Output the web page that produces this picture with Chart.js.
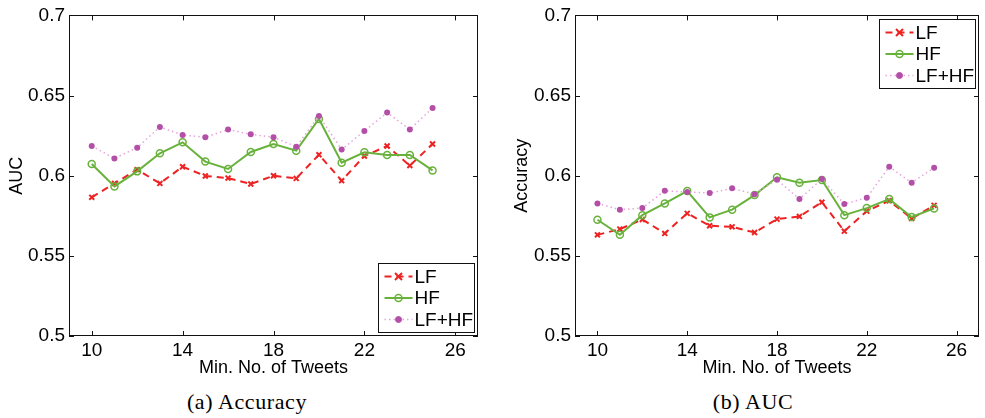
<!DOCTYPE html>
<html>
<head>
<meta charset="utf-8">
<script src="https://cdn.jsdelivr.net/npm/chart.js@4.4.1/dist/chart.umd.min.js"></script>
<style>
  html, body { margin:0; background:#fff; width:985px; height:418px; overflow:hidden; }
  .fig { position:absolute; top:0; width:490px; height:380px; }
  .cap { position:absolute; top:390px; line-height:24px; font:22px/24px "Liberation Serif","DejaVu Serif",serif; letter-spacing:0.6px; color:#000; transform:translateX(-50%); white-space:nowrap; }
</style>
</head>
<body>
<div class="fig" style="left:0"><canvas id="c1" width="490" height="380"></canvas></div>
<div class="fig" style="left:495px"><canvas id="c2" width="490" height="380"></canvas></div>
<div class="cap" style="left:247px">(a) Accuracy</div>
<div class="cap" style="left:753px">(b) AUC</div>
<script>
// data
const minTweets = [10, 11, 12, 13, 14, 15, 16, 17, 18, 19, 20, 21, 22, 23, 24, 25];
const xTicks = [10, 14, 18, 22, 26];
const yTicks = [0.5, 0.55, 0.6, 0.65, 0.7];
const seriesNames = ['LF', 'HF', 'LF+HF'];

// left panel (AUC axis)
const aucLF   = [0.5865, 0.5952, 0.6038, 0.5952, 0.6056, 0.5998, 0.5985, 0.5948, 0.6000, 0.5983, 0.6131, 0.5969, 0.6123, 0.6185, 0.6063, 0.6198];
const aucHF   = [0.6073, 0.5933, 0.6027, 0.6140, 0.6208, 0.6088, 0.6042, 0.6148, 0.6198, 0.6156, 0.6354, 0.6081, 0.6146, 0.6129, 0.6129, 0.6033];
const aucBoth = [0.6185, 0.6108, 0.6175, 0.6304, 0.6254, 0.6240, 0.6288, 0.6258, 0.6240, 0.6181, 0.6373, 0.6163, 0.6279, 0.6394, 0.6288, 0.6423];

// right panel (Accuracy axis)
const accLF   = [0.5631, 0.5667, 0.5727, 0.5640, 0.5765, 0.5688, 0.5681, 0.5646, 0.5729, 0.5746, 0.5835, 0.5654, 0.5779, 0.5844, 0.5733, 0.5815];
const accHF   = [0.5725, 0.5631, 0.5754, 0.5827, 0.5904, 0.5740, 0.5788, 0.5879, 0.5990, 0.5956, 0.5973, 0.5754, 0.5798, 0.5854, 0.5742, 0.5796];
const accBoth = [0.5827, 0.5788, 0.5798, 0.5906, 0.5898, 0.5892, 0.5921, 0.5885, 0.5975, 0.5854, 0.5979, 0.5823, 0.5863, 0.6056, 0.5956, 0.6050];

const FONT = '"Liberation Sans", Arial, Helvetica, sans-serif';
const RED = '#ee2222', GREEN = '#68b23c', PURPLE = '#b44fa8', PINK = '#e6a3dc';

function pts(vals){ return minTweets.map((x, i) => ({x, y: vals[i]})); }

function drawMarker(ctx, ds, x, y){
  ctx.save();
  ctx.setLineDash([]);
  ctx.lineWidth = ds.pointBorderWidth;
  ctx.strokeStyle = ds.pointBorderColor;
  ctx.fillStyle = ds.pointBackgroundColor;
  const r = ds.pointRadius;
  ctx.beginPath();
  if (ds.pointStyle === 'crossRot') {
    ctx.moveTo(x - r, y - r); ctx.lineTo(x + r, y + r);
    ctx.moveTo(x + r, y - r); ctx.lineTo(x - r, y + r);
    ctx.stroke();
  } else {
    ctx.arc(x, y, r, 0, Math.PI * 2);
    ctx.fill(); ctx.stroke();
  }
  ctx.restore();
}

// matlab-like box, inward ticks and legend inside the axes
const frame = {
  id: 'frame',
  afterDatasetsDraw(chart, args, opts){
    const {ctx, chartArea: a, scales: {x, y}} = chart;
    ctx.save();
    ctx.strokeStyle = '#111'; ctx.lineWidth = 1;
    ctx.beginPath();
    xTicks.forEach(v => {
      const px = Math.round(x.getPixelForValue(v)) + 0.5;
      ctx.moveTo(px, a.top); ctx.lineTo(px, a.top + 5);
      ctx.moveTo(px, a.bottom); ctx.lineTo(px, a.bottom - 5);
    });
    yTicks.forEach(v => {
      const py = Math.round(y.getPixelForValue(v)) + 0.5;
      ctx.moveTo(a.left, py); ctx.lineTo(a.left + 5, py);
      ctx.moveTo(a.right, py); ctx.lineTo(a.right - 5, py);
    });
    ctx.stroke();
    ctx.strokeRect(Math.round(a.left) + 0.5, Math.round(a.top) + 0.5, Math.round(a.width) - 1, Math.round(a.height) - 1);

    // legend
    const w = 96, h = 69;
    const bx = Math.round(a.right - 4 - w) + 0.5;
    const by = opts.corner === 'top' ? Math.round(a.top + 4) + 0.5 : Math.round(a.bottom - 4 - h) + 0.5;
    ctx.fillStyle = '#fff';
    ctx.fillRect(bx, by, w, h);
    ctx.strokeStyle = '#111';
    ctx.strokeRect(bx, by, w, h);
    chart.data.datasets.forEach((ds, i) => {
      const ry = by + 13 + i * 21.5;
      ctx.save();
      ctx.strokeStyle = ds.borderColor;
      ctx.lineWidth = ds.borderWidth;
      ctx.setLineDash(ds.borderDash || []);
      ctx.beginPath();
      ctx.moveTo(bx + 6, ry); ctx.lineTo(bx + 34, ry);
      ctx.stroke();
      ctx.restore();
      drawMarker(ctx, ds, bx + 20, ry);
      ctx.fillStyle = '#000';
      ctx.font = '19px ' + FONT;
      ctx.textBaseline = 'middle';
      ctx.fillText(ds.label, bx + 36, ry + 1);
    });
    ctx.restore();
  }
};

function makeChart(id, yTitle, lf, hf, both, o){
  return new Chart(document.getElementById(id), {
    type: 'line',
    data: { datasets: [
      { label: seriesNames[0], data: pts(lf), borderColor: RED, borderWidth: 2, borderDash: [7, 5],
        pointStyle: 'crossRot', pointRadius: 3.5, pointBorderWidth: 2, pointBorderColor: RED, pointBackgroundColor: RED, order: 3 },
      { label: seriesNames[1], data: pts(hf), borderColor: GREEN, borderWidth: 2,
        pointStyle: 'circle', pointRadius: 3.5, pointBorderWidth: 1.5, pointBorderColor: GREEN, pointBackgroundColor: 'rgba(255,255,255,0)', order: 2 },
      { label: seriesNames[2], data: pts(both), borderColor: PINK, borderWidth: 1.5, borderDash: [1.5, 3],
        pointStyle: 'circle', pointRadius: 3, pointBorderWidth: 0, pointBorderColor: PURPLE, pointBackgroundColor: PURPLE, order: 1 }
    ]},
    options: {
      responsive: false,
      animation: false,
      events: [],
      layout: { padding: { top: 13, right: o.padRight, left: 0, bottom: 0 } },
      plugins: { legend: { display: false }, tooltip: { enabled: false }, frame: { corner: o.corner } },
      scales: {
        x: {
          type: 'linear', min: 9, max: 27,
          grid: { display: false, drawTicks: false }, border: { display: false },
          afterBuildTicks: s => { s.ticks = xTicks.map(v => ({value: v})); },
          afterFit: s => { s.height = 44; },
          ticks: { padding: 3, color: '#000', font: { family: FONT, size: 19 }, callback: v => String(v) },
          title: { display: true, text: 'Min. No. of Tweets', color: '#000', font: { family: FONT, size: 18 }, padding: { top: 0, bottom: 1 } }
        },
        y: {
          min: 0.5, max: 0.7,
          grid: { display: false, drawTicks: false }, border: { display: false },
          afterBuildTicks: s => { s.ticks = yTicks.map(v => ({value: v})); },
          afterFit: s => { s.width = o.axisWidth; },
          ticks: { padding: 4, color: '#000', font: { family: FONT, size: 19 }, callback: v => String(v) },
          title: { display: true, text: yTitle, color: '#000', font: { family: FONT, size: 18 }, padding: { top: o.titlePad, bottom: 0 } }
        }
      }
    },
    plugins: [frame]
  });
}

makeChart('c1', 'AUC', aucLF, aucHF, aucBoth, { axisWidth: 69, padRight: 12, corner: 'bottom', titlePad: 6 });
makeChart('c2', 'Accuracy', accLF, accHF, accBoth, { axisWidth: 80, padRight: 1, corner: 'top', titlePad: 16 });
</script>
</body>
</html>
